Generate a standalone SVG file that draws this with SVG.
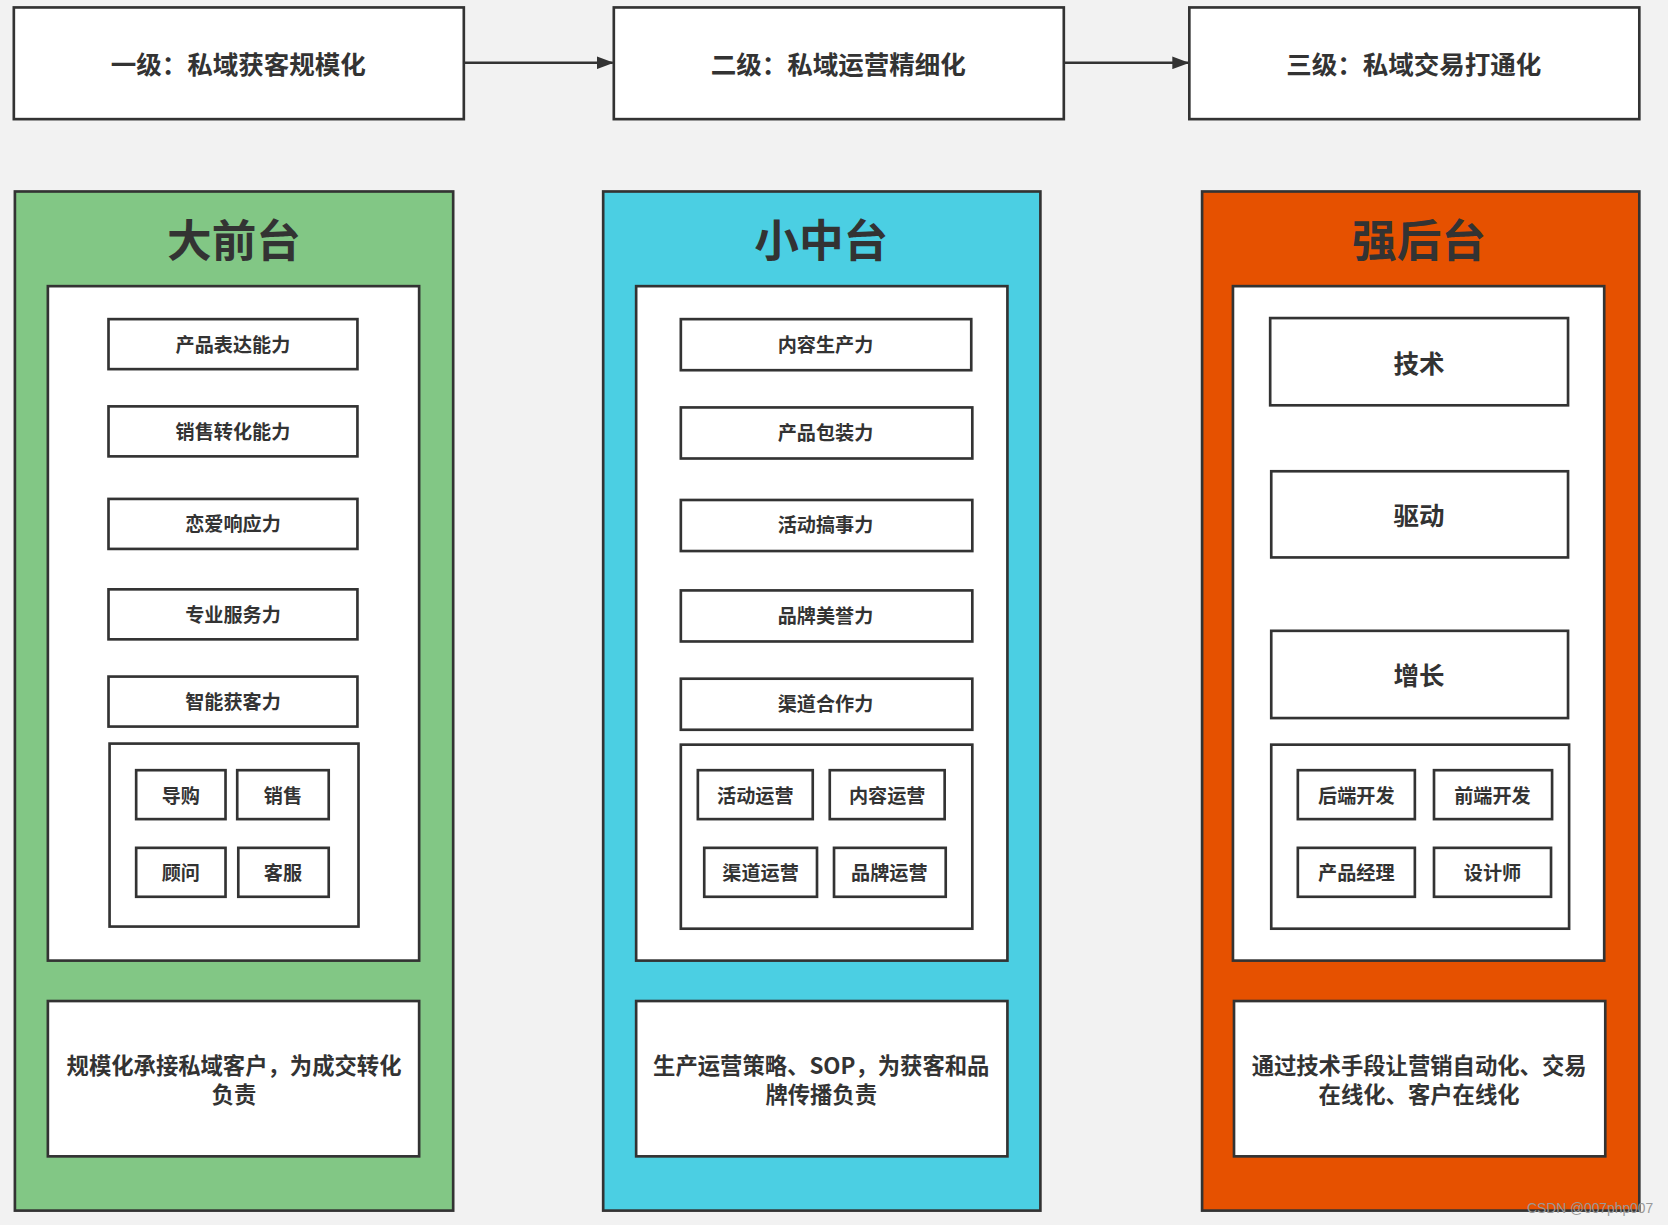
<svg xmlns="http://www.w3.org/2000/svg" width="1668" height="1225" viewBox="0 0 1668 1225">
<style>
.b{fill:#fff;stroke:#333;stroke-width:2.5}
.t{font-family:"Noto Sans CJK SC",sans-serif;font-weight:bold;fill:#333;text-anchor:middle;dominant-baseline:central}
.s{font-size:18px}.m{font-size:21px}.l{font-size:24px}.h{font-size:42px}
.c{stroke:#333;stroke-width:2.5}
</style>
<defs><marker id="a" markerWidth="16" markerHeight="12" refX="15" refY="6" orient="auto" markerUnits="userSpaceOnUse"><path d="M0,0L16,6L0,12z" fill="#333"/></marker></defs>
<rect width="1668" height="1225" fill="#f2f2f2"/>
<g transform="scale(1.0638)">
<g id="level1"><rect class="b" x="13" y="7" width="423" height="105"/><text class="t l" x="224" y="59">一级：私域获客规模化</text></g>
<g id="level2"><rect class="b" x="577" y="7" width="423" height="105"/><text class="t l" x="788" y="59">二级：私域运营精细化</text></g>
<g id="level3"><rect class="b" x="1118" y="7" width="423" height="105"/><text class="t l" x="1329" y="59">三级：私域交易打通化</text></g>
<g id="connectors"><line class="c" x1="436" y1="59" x2="576" y2="59" marker-end="url(#a)"/><line class="c" x1="1000" y1="59" x2="1117" y2="59" marker-end="url(#a)"/></g>

<g id="front">
<rect x="14" y="180" width="412" height="958" fill="#82c785" stroke="#333" stroke-width="2.5"/>
<text class="t h" x="220" y="223">大前台</text>
<rect class="b" x="45" y="269" width="349" height="634"/>
<rect class="b" x="102" y="300" width="234" height="47"/><text class="t s" x="219" y="323">产品表达能力</text>
<rect class="b" x="102" y="382" width="234" height="47"/><text class="t s" x="219" y="405">销售转化能力</text>
<rect class="b" x="102" y="469" width="234" height="47"/><text class="t s" x="219" y="492">恋爱响应力</text>
<rect class="b" x="102" y="554" width="234" height="47"/><text class="t s" x="219" y="577">专业服务力</text>
<rect class="b" x="102" y="636" width="234" height="47"/><text class="t s" x="219" y="659">智能获客力</text>
<rect class="b" x="103" y="699" width="234" height="172"/>
<rect class="b" x="128" y="724" width="84" height="46"/><text class="t s" x="170" y="747">导购</text>
<rect class="b" x="223" y="724" width="86" height="46"/><text class="t s" x="266" y="747">销售</text>
<rect class="b" x="128" y="797" width="84" height="46"/><text class="t s" x="170" y="820">顾问</text>
<rect class="b" x="224" y="797" width="85" height="46"/><text class="t s" x="266" y="820">客服</text>
<rect class="b" x="45" y="941" width="349" height="146"/>
<text class="t m" x="220" y="1000">规模化承接私域客户，为成交转化</text><text class="t m" x="220" y="1027">负责</text>
</g>

<g id="middle">
<rect x="567" y="180" width="411" height="958" fill="#4bcfe3" stroke="#333" stroke-width="2.5"/>
<text class="t h" x="772" y="223">小中台</text>
<rect class="b" x="598" y="269" width="349" height="634"/>
<rect class="b" x="640" y="300" width="273" height="48"/><text class="t s" x="776" y="323">内容生产力</text>
<rect class="b" x="640" y="383" width="274" height="48"/><text class="t s" x="776" y="406">产品包装力</text>
<rect class="b" x="640" y="470" width="274" height="48"/><text class="t s" x="776" y="493">活动搞事力</text>
<rect class="b" x="640" y="555" width="274" height="48"/><text class="t s" x="776" y="578">品牌美誉力</text>
<rect class="b" x="640" y="638" width="274" height="48"/><text class="t s" x="776" y="661">渠道合作力</text>
<rect class="b" x="640" y="700" width="274" height="173"/>
<rect class="b" x="656" y="724" width="108" height="46"/><text class="t s" x="710" y="747">活动运营</text>
<rect class="b" x="780" y="724" width="108" height="46"/><text class="t s" x="834" y="747">内容运营</text>
<rect class="b" x="662" y="797" width="106" height="46"/><text class="t s" x="715" y="820">渠道运营</text>
<rect class="b" x="784" y="797" width="105" height="46"/><text class="t s" x="836" y="820">品牌运营</text>
<rect class="b" x="598" y="941" width="349" height="146"/>
<text class="t m" x="772" y="1000">生产运营策略、SOP，为获客和品</text><text class="t m" x="772" y="1027">牌传播负责</text>
</g>

<g id="back">
<rect x="1130" y="180" width="411" height="958" fill="#e65100" stroke="#333" stroke-width="2.5"/>
<text class="t h" x="1334" y="223">强后台</text>
<rect class="b" x="1159" y="269" width="349" height="634"/>
<rect class="b" x="1194" y="299" width="280" height="82"/><text class="t l" x="1334" y="340">技术</text>
<rect class="b" x="1195" y="443" width="279" height="81"/><text class="t l" x="1334" y="483">驱动</text>
<rect class="b" x="1195" y="593" width="279" height="82"/><text class="t l" x="1334" y="633">增长</text>
<rect class="b" x="1195" y="700" width="280" height="173"/>
<rect class="b" x="1220" y="724" width="110" height="46"/><text class="t s" x="1275" y="747">后端开发</text>
<rect class="b" x="1348" y="724" width="111" height="46"/><text class="t s" x="1403" y="747">前端开发</text>
<rect class="b" x="1220" y="797" width="110" height="46"/><text class="t s" x="1275" y="820">产品经理</text>
<rect class="b" x="1348" y="797" width="110" height="46"/><text class="t s" x="1403" y="820">设计师</text>
<rect class="b" x="1160" y="941" width="349" height="146"/>
<text class="t m" x="1334" y="1000">通过技术手段让营销自动化、交易</text><text class="t m" x="1334" y="1027">在线化、客户在线化</text>
</g>
<text x="1554" y="1140" font-family="Liberation Sans,sans-serif" font-size="13" fill="#999" text-anchor="end">CSDN @007php007</text>
</g>
</svg>
